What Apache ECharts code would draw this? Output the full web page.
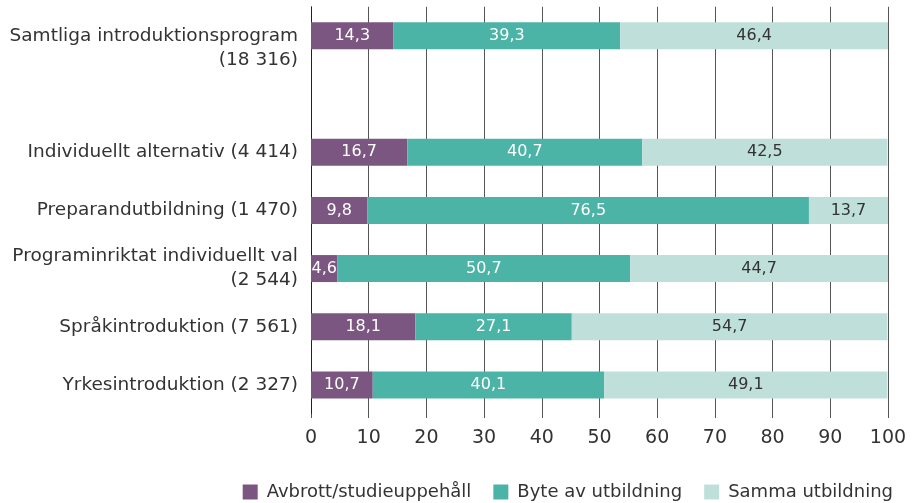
<!DOCTYPE html>
<html lang="sv">
<head>
  <meta charset="UTF-8">
  <script src="https://cdn.jsdelivr.net/npm/echarts@6/dist/echarts.min.js"></script>
  <style>
    body { margin: 0; background: #fff; }
    #main { width: 924px; height: 503px; }
  </style>
</head>
<body>
  <div id="main"></div>
  <script>
    // kategorier, uppifrån och ned (tom rad = mellanrum)
    const categories = [
      'Samtliga introduktionsprogram\n(18 316)',
      '',
      'Individuellt alternativ (4 414)',
      'Preparandutbildning (1 470)',
      'Programinriktat individuellt val\n(2 544)',
      'Språkintroduktion (7 561)',
      'Yrkesintroduktion (2 327)'
    ];
    const avbrott = [14.3, null, 16.7, 9.8, 4.6, 18.1, 10.7];
    const byte = [39.3, null, 40.7, 76.5, 50.7, 27.1, 40.1];
    const samma = [46.4, null, 42.5, 13.7, 44.7, 54.7, 49.1];
    const xTicks = [0, 10, 20, 30, 40, 50, 60, 70, 80, 90, 100];

    const font = 'DejaVu Sans, sans-serif';
    const fmt = p => p.value == null ? '' : String(p.value).replace('.', ',');

    function bar(name, data, color, labelColor) {
      return {
        name, type: 'bar', stack: 'a', data,
        barWidth: 27,
        itemStyle: { color },
        label: {
          show: true, position: 'inside', formatter: fmt,
          color: labelColor, fontFamily: font, fontSize: 16
        }
      };
    }

    const chart = echarts.init(document.getElementById('main'));
    chart.setOption({
      animation: false,
      grid: { left: 311, right: 36, top: 5, height: 409 },
      legend: {
        top: 478, right: 26,
        itemWidth: 15, itemHeight: 15, itemGap: 22,
        icon: 'rect',
        textStyle: { fontFamily: font, fontSize: 18, color: '#333', padding: [0, 0, 0, 4] }
      },
      xAxis: {
        type: 'value', min: 0, max: 100, interval: 10,
        axisLine: { show: false },
        axisTick: { show: true, length: 4, lineStyle: { color: '#555' } },
        splitLine: { show: true, lineStyle: { color: '#555', width: 1 } },
        axisLabel: {
          margin: 15, fontFamily: font, fontSize: 19, color: '#333',
          formatter: v => xTicks.includes(v) ? String(v) : ''
        }
      },
      yAxis: {
        type: 'category', inverse: true, data: categories,
        axisLine: { show: true, lineStyle: { color: '#222' } },
        axisTick: { show: false },
        axisLabel: {
          margin: 13, fontFamily: font, fontSize: 18.5, color: '#333',
          lineHeight: 24, align: 'right',
          // första etiketten: översta raden i höjd med stapeln
          formatter: (v, i) => i === 0 ? ' \n' + v : v
        }
      },
      series: [
        bar('Avbrott/studieuppehåll', avbrott, '#7a5681', '#fff'),
        bar('Byte av utbildning', byte, '#4cb3a7', '#fff'),
        bar('Samma utbildning', samma, '#bfe0da', '#333')
      ]
    });
  </script>
</body>
</html>
